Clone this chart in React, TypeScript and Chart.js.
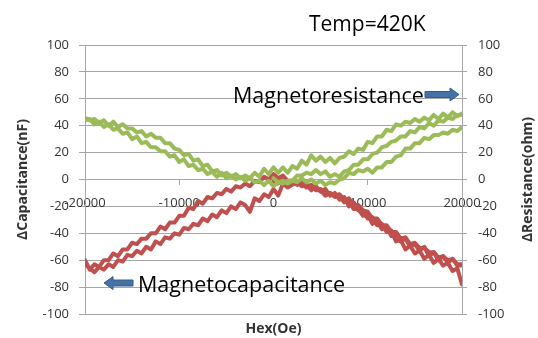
import { useEffect, useRef } from 'react';
import { Chart, registerables } from 'chart.js';

Chart.register(...registerables);

// Applied field (Oe) for the full sweeps and for the initial 0 -> +20000 run
const FIELD_SWEEP = [
  -20000, -19500, -19000, -18500, -18000, -17500, -17000, -16500, -16000, -15500,
  -15000, -14500, -14000, -13500, -13000, -12500, -12000, -11500, -11000, -10500,
  -10000, -9500, -9000, -8500, -8000, -7500, -7000, -6500, -6000, -5500,
  -5000, -4500, -4000, -3500, -3000, -2500, -2000, -1500, -1000, -500,
  0, 500, 1000, 1500, 2000, 2500, 3000, 3500, 4000, 4500,
  5000, 5500, 6000, 6500, 7000, 7500, 8000, 8500, 9000, 9500,
  10000, 10500, 11000, 11500, 12000, 12500, 13000, 13500, 14000, 14500,
  15000, 15500, 16000, 16500, 17000, 17500, 18000, 18500, 19000, 19500,
  20000,
];
const FIELD_INITIAL = [
  0, 500, 1000, 1500, 2000, 2500, 3000, 3500, 4000, 4500,
  5000, 5500, 6000, 6500, 7000, 7500, 8000, 8500, 9000, 9500,
  10000, 10500, 11000, 11500, 12000, 12500, 13000, 13500, 14000, 14500,
  15000, 15500, 16000, 16500, 17000, 17500, 18000, 18500, 19000, 19500,
  20000,
];

// ΔResistance (ohm), right axis
const RES_SWEEP_A = [
  46, 44, 45, 42, 44, 40, 43, 39, 41, 38,
  38, 35, 36, 32, 34, 31, 31, 27, 27, 23,
  22, 18, 19, 14, 15, 10, 11, 6, 7, 3,
  5, 2, 4, 1, 3, 1, 5, 2, 8, 4,
  9, 5, 9, 5, 10, 8, 14, 11, 18, 14,
  17, 13, 16, 12, 16, 17, 21, 19, 23, 22,
  28, 27, 32, 32, 37, 36, 41, 40, 43, 42,
  45, 43, 46, 44, 48, 45, 49, 46, 50, 47,
  49,
];
const RES_SWEEP_B = [
  44, 45, 41, 43, 39, 41, 37, 38, 34, 35,
  30, 32, 27, 28, 24, 24, 21, 21, 17, 18,
  13, 15, 10, 11, 7, 8, 4, 6, 2, 5,
  1, 3, 0, 2, -1, 1, -2, -1, -4, -1,
  -5, -2, -3, -1, -1, 3, 3, 5, 4, 7,
  4, 6, 2, 4, 2, 6, 7, 11, 11, 15,
  15, 19, 20, 24, 25, 28, 29, 32, 32, 36,
  35, 39, 38, 42, 40, 44, 43, 46, 45, 48,
  48,
];
const RES_INITIAL = [
  1, -2, -1, -3, -1, -2, 1, -2, 0, -3,
  -1, -4, -2, -3, 0, 1, 5, 4, 7, 6,
  8, 5, 9, 9, 13, 13, 17, 18, 23, 23,
  27, 27, 31, 30, 33, 33, 35, 34, 37, 36,
  39,
];

// ΔCapacitance (nF), left axis
const CAP_SWEEP_A = [
  -60, -67, -63, -65, -60, -60, -55, -57, -52, -52,
  -47, -48, -44, -44, -40, -40, -35, -37, -32, -32,
  -27, -27, -21, -22, -16, -18, -13, -14, -10, -11,
  -7, -9, -5, -6, -3, -5, -1, -2, 2, 0,
  4, 1, 3, -1, -1, -3, -2, -6, -5, -8,
  -8, -12, -10, -13, -12, -17, -15, -22, -22, -27,
  -26, -33, -31, -37, -35, -42, -40, -46, -44, -50,
  -48, -53, -50, -57, -54, -60, -57, -62, -59, -64,
  -64,
];
const CAP_SWEEP_B = [
  -63, -66, -69, -65, -67, -63, -65, -60, -61, -56,
  -57, -53, -55, -50, -52, -46, -48, -43, -44, -40,
  -41, -36, -37, -33, -34, -29, -31, -26, -28, -23,
  -25, -20, -22, -17, -19, -24, -14, -16, -11, -13,
  -7, -12, -3, -6, -4, -2, -5, -4, -8, -5,
  -9, -7, -12, -10, -15, -13, -20, -17, -23, -24,
  -29, -28, -34, -33, -39, -38, -46, -45, -52, -49,
  -55, -53, -59, -56, -62, -59, -64, -62, -68, -66,
  -78,
];
const CAP_INITIAL = [
  -1, -3, 1, -3, -2, -4, -1, -5, -4, -7,
  -7, -10, -10, -12, -11, -15, -14, -19, -19, -23,
  -24, -29, -29, -34, -34, -39, -39, -44, -43, -48,
  -47, -51, -51, -54, -54, -58, -57, -60, -59, -63,
  -63,
];

const GREEN = '#9BBB59';
const RED = '#C0504D';
const ARROW_FILL = '#4472A4';
const ARROW_EDGE = '#385D8A';
const GRID = '#A6A6A6';
const TICK_TEXT = '#333333';
const FONT = '"Open Sans", "DejaVu Sans", sans-serif';

const toPoints = (xs: number[], ys: number[]) => xs.map((x, i) => ({ x, y: ys[i] }));

const line = (data: { x: number; y: number }[], color: string, axis: string) => ({
  data,
  showLine: true,
  borderColor: color,
  backgroundColor: color,
  borderWidth: 4,
  pointRadius: 0,
  tension: 0,
  borderJoinStyle: 'round' as const,
  borderCapStyle: 'round' as const,
  yAxisID: axis,
});

function blockArrow(
  ctx: CanvasRenderingContext2D,
  tailX: number,
  tipX: number,
  cy: number,
) {
  const dir = tipX > tailX ? 1 : -1;
  const headLen = 9;
  const bodyHalf = 3;
  const headHalf = 6.5;
  const baseX = tipX - dir * headLen;
  ctx.beginPath();
  ctx.moveTo(tailX, cy - bodyHalf);
  ctx.lineTo(baseX, cy - bodyHalf);
  ctx.lineTo(baseX, cy - headHalf);
  ctx.lineTo(tipX, cy);
  ctx.lineTo(baseX, cy + headHalf);
  ctx.lineTo(baseX, cy + bodyHalf);
  ctx.lineTo(tailX, cy + bodyHalf);
  ctx.closePath();
  ctx.fillStyle = ARROW_FILL;
  ctx.fill();
  ctx.strokeStyle = ARROW_EDGE;
  ctx.lineWidth = 1;
  ctx.stroke();
}

const notes = {
  id: 'notes',
  afterDraw(chart: Chart) {
    const ctx = chart.ctx;
    ctx.save();
    ctx.fillStyle = '#000000';
    ctx.textAlign = 'left';
    ctx.textBaseline = 'alphabetic';
    ctx.font = `21px ${FONT}`;
    ctx.fillText('Temp=420K', 309, 31);
    ctx.font = `21.5px ${FONT}`;
    ctx.fillText('Magnetoresistance', 233, 103);
    ctx.fillText('Magnetocapacitance', 138, 292);
    blockArrow(ctx, 425, 459, 94.5);
    blockArrow(ctx, 133, 104, 283);

    // right-hand axis title, reading bottom to top
    ctx.translate(528, 179.5);
    ctx.rotate(-Math.PI / 2);
    ctx.textAlign = 'center';
    ctx.textBaseline = 'middle';
    ctx.fillStyle = TICK_TEXT;
    ctx.font = `bold 14px ${FONT}`;
    ctx.fillText('ΔResistance(ohm)', 0, 0);
    ctx.restore();
  },
};

export default function App() {
  const ref = useRef<HTMLCanvasElement>(null);

  useEffect(() => {
    if (!ref.current) return;
    const tickFont = { family: FONT, size: 13 };
    const chart = new Chart(ref.current, {
      type: 'scatter',
      data: {
        datasets: [
          line(toPoints(FIELD_SWEEP, RES_SWEEP_A), GREEN, 'y1'),
          line(toPoints(FIELD_SWEEP, RES_SWEEP_B), GREEN, 'y1'),
          line(toPoints(FIELD_INITIAL, RES_INITIAL), GREEN, 'y1'),
          line(toPoints(FIELD_SWEEP, CAP_SWEEP_A), RED, 'y'),
          line(toPoints(FIELD_SWEEP, CAP_SWEEP_B), RED, 'y'),
          line(toPoints(FIELD_INITIAL, CAP_INITIAL), RED, 'y'),
        ],
      },
      options: {
        responsive: false,
        animation: false,
        devicePixelRatio: 1,
        layout: { padding: { top: 45, bottom: 0, left: 0, right: 0 } },
        plugins: {
          legend: { display: false },
          tooltip: { enabled: false },
        },
        scales: {
          x: {
            type: 'linear',
            min: -20000,
            max: 20000,
            position: { y: 0 },
            afterFit: (s: any) => {
              s.height = 0;
            },
            ticks: {
              stepSize: 10000,
              autoSkip: false,
              maxRotation: 0,
              font: tickFont,
              color: TICK_TEXT,
              padding: 11,
              callback: (v: any) => String(v),
            },
            grid: { drawOnChartArea: false, drawTicks: true, tickLength: 5, color: GRID },
            border: { color: GRID },
          },
          xTitle: {
            type: 'linear',
            axis: 'x',
            position: 'bottom',
            min: -20000,
            max: 20000,
            afterFit: (s: any) => {
              s.height = 24;
            },
            ticks: { display: false },
            grid: { display: false },
            border: { display: false },
            title: {
              display: true,
              text: 'Hex(Oe)',
              color: TICK_TEXT,
              font: { family: FONT, size: 14, weight: 'bold' },
              padding: { top: 0, bottom: 1 },
            },
          },
          y: {
            type: 'linear',
            position: 'left',
            min: -100,
            max: 100,
            afterFit: (s: any) => {
              s.width = 85;
            },
            ticks: { stepSize: 20, font: tickFont, color: TICK_TEXT, padding: 10 },
            grid: { color: GRID, tickLength: 6 },
            border: { color: GRID },
            title: {
              display: true,
              text: 'ΔCapacitance(nF)',
              color: TICK_TEXT,
              font: { family: FONT, size: 14, weight: 'bold' },
              padding: { top: 15, bottom: 0 },
            },
          },
          y1: {
            type: 'linear',
            position: 'right',
            min: -100,
            max: 100,
            afterFit: (s: any) => {
              s.width = 76;
            },
            ticks: { stepSize: 20, font: tickFont, color: TICK_TEXT, padding: 11 },
            grid: { drawOnChartArea: false, color: GRID, tickLength: 5 },
            border: { color: GRID },
          },
        },
      },
      plugins: [notes],
    } as any);
    return () => chart.destroy();
  }, []);

  return (
    <div style={{ position: 'fixed', left: 0, top: 0, width: 538, height: 338, background: '#ffffff' }}>
      <canvas ref={ref} width={538} height={338} style={{ display: 'block', width: 538, height: 338 }} />
    </div>
  );
}
